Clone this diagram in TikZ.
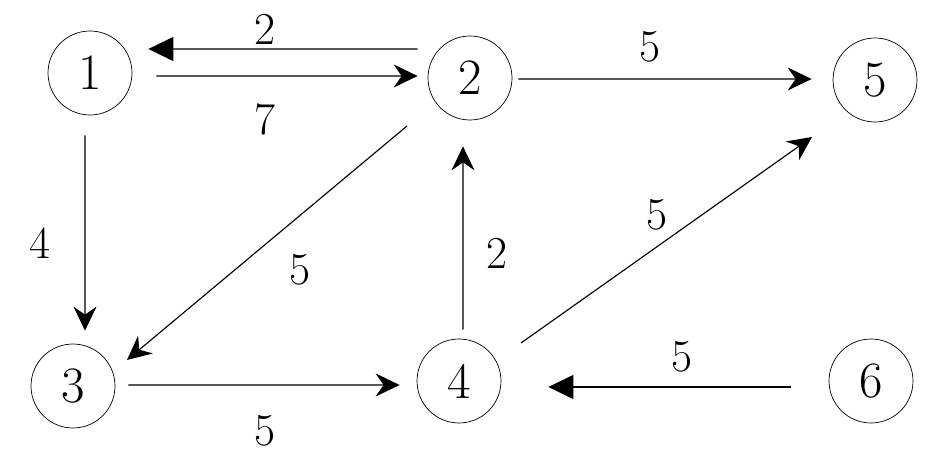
\documentclass[tikz,border=0pt]{standalone}
\usepackage{tikz}
\usetikzlibrary{arrows.meta,calc,positioning}

\begin{document}
\begin{tikzpicture}[>={Stealth[length=4.8mm,width=4.6mm,inset=1.6mm]},line width=0.65pt]
    \tikzstyle{vertex}=[circle,draw,line width=0.4pt,inner sep=0pt,minimum size=16.8mm,font=\fontsize{29}{34}\selectfont]
    \tikzstyle{wt}=[inner sep=0pt,font=\fontsize{26}{30}\selectfont]
    \tikzstyle{tri}=[-{Triangle[length=5mm,width=4.8mm]}]
    \useasboundingbox (0,0) rectangle (18.96,9.12);
    \node[vertex] (n1) at (1.80,7.66) {1};
    \node[vertex] (n2) at (9.40,7.56) {2};
    \node[vertex] (n5) at (17.50,7.52) {5};
    \node[vertex] (n3) at (1.46,1.40) {3};
    \node[vertex] (n4) at (9.18,1.50) {4};
    \node[vertex] (n6) at (17.42,1.50) {6};
    \draw[tri] ($(n2.west)+(-0.20,0.58)$) -- node[wt,pos=.567,above=0.8mm] {2} ($(n1.east)+(0.32,0.48)$);
    \draw[->] ($(n1.east)+(0.48,-0.06)$) -- node[wt,pos=.416,below=5.45mm] {7} ($(n2.west)+(-0.20,0.04)$);
    \draw[->] ($(n2.east)+(0.12,-0.02)$) -- node[wt,pos=.449,above=3.25mm] {5} ($(n5.west)+(-0.42,0.02)$);
    \draw[->] ($(n1.south)+(-0.10,-0.40)$) -- node[wt,pos=.551,left=6.7mm] {4} ($(n3.north)+(0.24,0.26)$);
    \draw[->] ($(n2.center)+(-1.26,-0.96)$) -- node[wt,pos=.478,xshift=5.4mm,yshift=-6.4mm] {5} ($(n3.center)+(1.08,0.52)$);
    \draw[->] ($(n3.east)+(0.26,0.02)$) -- node[wt,pos=.504,below=6.05mm] {5} ($(n4.west)+(-0.34,-0.08)$);
    \draw[->] ($(n4.north)+(0.08,0.18)$) -- node[wt,pos=.418,right=4.5mm] {2} ($(n2.south)+(-0.14,-0.52)$);
    \draw[->] ($(n4.center)+(1.24,0.76)$) -- node[wt,pos=.519,xshift=-3mm,yshift=4.2mm] {5} ($(n5.center)+(-1.26,-1.14)$);
    \draw[tri] ($(n6.west)+(-0.76,-0.12)$) -- node[wt,pos=.449,above=2.85mm] {5} ($(n4.east)+(0.94,-0.12)$);
\end{tikzpicture}
\end{document}
